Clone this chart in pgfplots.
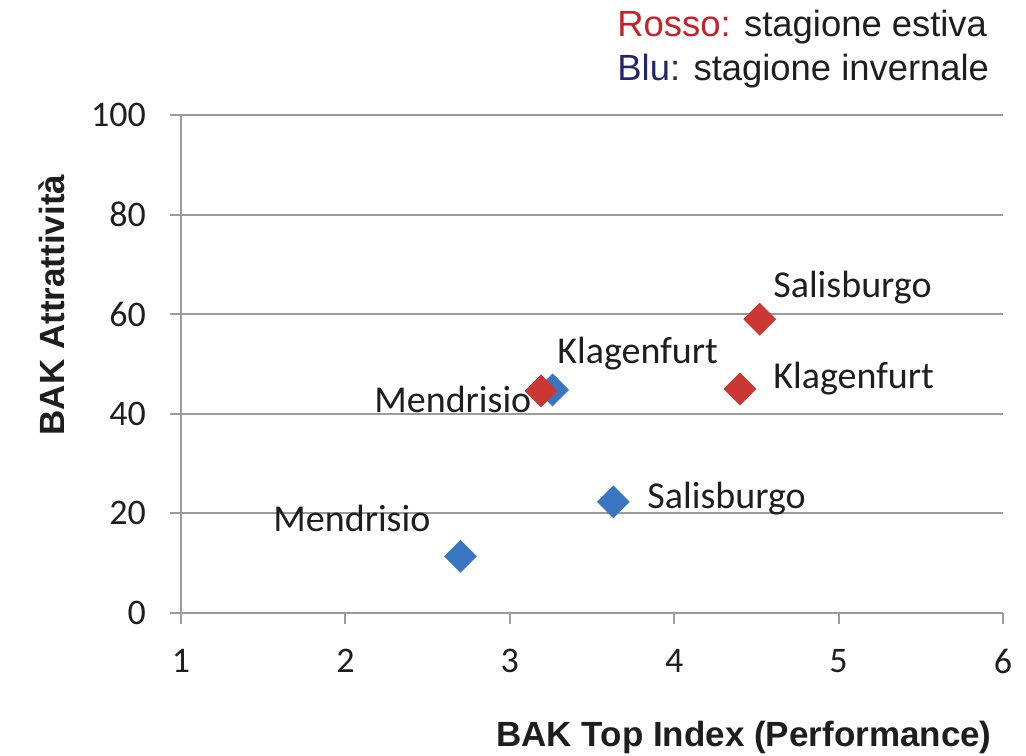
\documentclass[border=0pt]{standalone}
\usepackage{pgfplots}
\pgfplotsset{compat=1.18}
\usepackage{fontspec}
\setmainfont{Carlito}
\newfontfamily\arial{Liberation Sans}

\definecolor{redpt}{RGB}{203,56,52}
\definecolor{bluept}{RGB}{58,118,192}
\definecolor{gridgray}{RGB}{155,155,155}
\definecolor{legred}{RGB}{200,32,40}
\definecolor{legblue}{RGB}{38,36,110}
\definecolor{txt}{RGB}{30,30,30}

\begin{document}
\begin{tikzpicture}
\path[use as bounding box] (-90.5bp,-71.5bp) rectangle (422.5bp,306.5bp);
\begin{axis}[
  scale only axis, width=411bp, height=249bp,
  xmin=1, xmax=6, ymin=0, ymax=100,
  xtick={1,2,3,4,5,6}, ytick={0,20,40,60,80,100},
  axis lines=left, axis line style={-, gridgray, line width=1bp},
  ymajorgrids, grid style={gridgray, line width=1bp},
  tick align=outside, major tick length=5.5bp,
  tick style={gridgray, line width=1bp},
  ticklabel style={font=\fontsize{18bp}{20bp}\selectfont, text=txt},
  xticklabel style={yshift=-9bp},
  yticklabel style={xshift=-8.5bp},
  /pgf/number format/assume math mode=true,
  clip=false,
]
% inverno
\addplot[only marks, mark=square*, mark size=5.6bp,
  mark options={rotate=45, fill=bluept, draw=bluept}]
  coordinates {(3.26,44.8) (3.63,22.3) (2.70,11.4)};
% estate
\addplot[only marks, mark=square*, mark size=5.6bp,
  mark options={rotate=45, fill=redpt, draw=redpt}]
  coordinates {(3.19,44.6) (4.52,59.0) (4.40,45.0)};

\node[anchor=base west, inner sep=0pt, font=\fontsize{19bp}{22bp}\selectfont, text=txt] at (axis cs:4.601,63.45) {Salisburgo};
\node[anchor=base west, inner sep=0pt, font=\fontsize{19bp}{22bp}\selectfont, text=txt] at (axis cs:4.601,45.18) {Klagenfurt};
\node[anchor=base west, inner sep=0pt, font=\fontsize{19bp}{22bp}\selectfont, text=txt] at (axis cs:3.287,50.2) {Klagenfurt};
\node[anchor=base west, inner sep=0pt, font=\fontsize{19bp}{22bp}\selectfont, text=txt] at (axis cs:2.174,40.36) {Mendrisio};
\node[anchor=base west, inner sep=0pt, font=\fontsize{19bp}{22bp}\selectfont, text=txt] at (axis cs:3.835,21.08) {Salisburgo};
\node[anchor=base west, inner sep=0pt, font=\fontsize{19bp}{22bp}\selectfont, text=txt] at (axis cs:1.560,16.27) {Mendrisio};
\end{axis}

\node[rotate=90, anchor=base, inner sep=0pt, font=\arial\bfseries\fontsize{17.5bp}{20bp}\selectfont, text=txt] at (-58bp,154bp) {BAK Attrattività};
\node[anchor=base, inner sep=0pt, font=\arial\bfseries\fontsize{17.5bp}{20bp}\selectfont, text=txt] at (281.5bp,-66.5bp) {BAK Top Index (Performance)};
\node[anchor=base west, inner sep=0pt, font=\arial\fontsize{18.2bp}{21bp}\selectfont, text=txt] at (218bp,288bp) {\textcolor{legred}{Rosso:} stagione estiva};
\node[anchor=base west, inner sep=0pt, font=\arial\fontsize{18.2bp}{21bp}\selectfont, text=txt] at (218bp,266bp) {\textcolor{legblue}{Blu:} stagione invernale};
\end{tikzpicture}
\end{document}
